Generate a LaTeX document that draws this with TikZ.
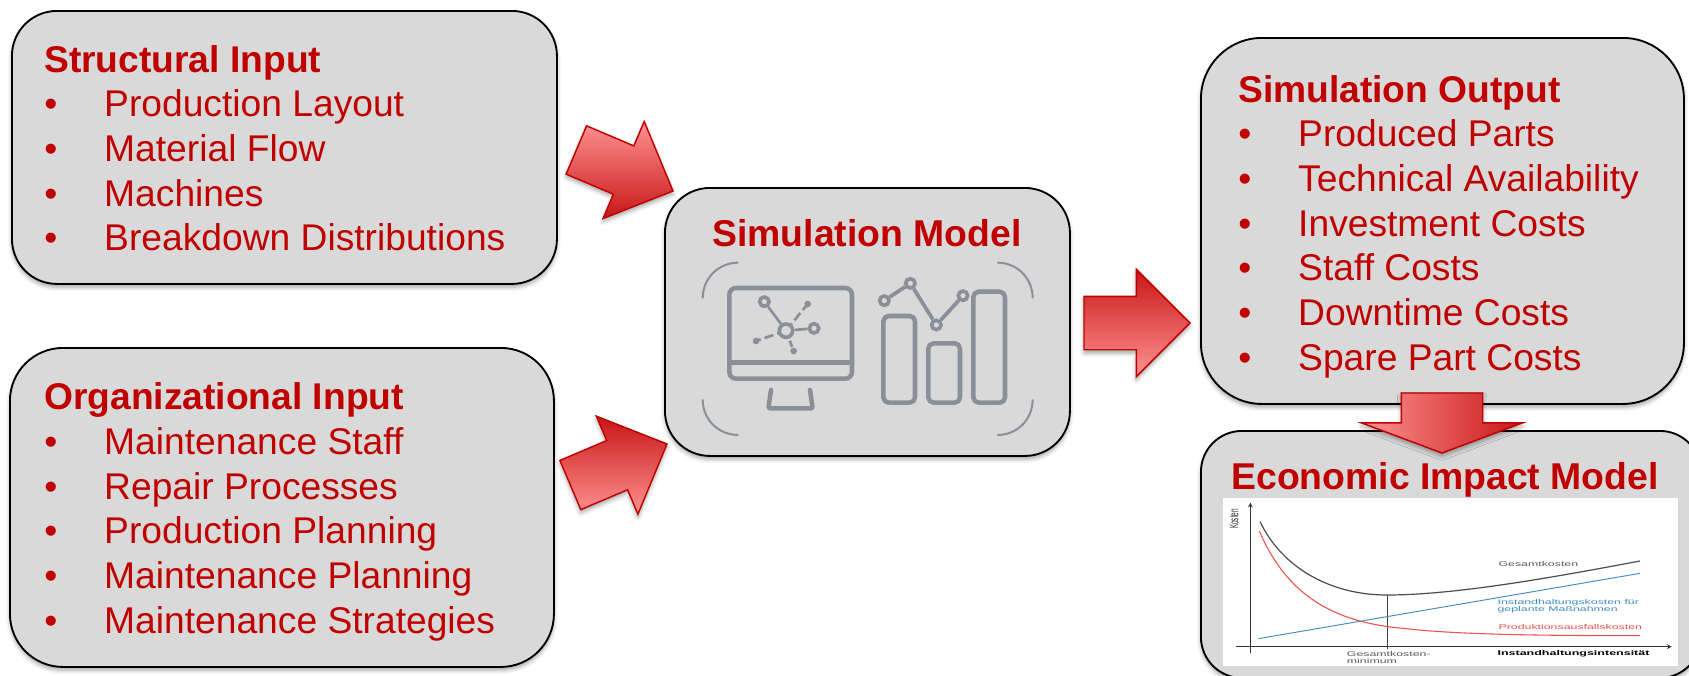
\documentclass[tikz,border=0pt]{standalone}
\usepackage{fontspec}
\usepackage{graphicx}
\setmainfont{Liberation Sans}
\usetikzlibrary{shapes.arrows,shadows.blur}

\definecolor{titlered}{HTML}{C00000}
\definecolor{panelgray}{HTML}{D9D9D9}
\definecolor{arrowlight}{HTML}{FF9292}
\definecolor{arrowdark}{HTML}{C81616}
\definecolor{icongray}{HTML}{8A8F99}
\definecolor{costblue}{HTML}{3F8CC4}
\definecolor{costred}{HTML}{F0504A}

\newcommand{\bul}[1]{\makebox[45pt][l]{\textbullet}#1}
\newcommand{\wide}[1]{\scalebox{1.78}[1]{#1}}

\begin{document}
\begin{tikzpicture}[x=0.75pt, y=-0.75pt,
    softshadow/.style={blur shadow={shadow xshift=0pt, shadow yshift=-2.5pt, shadow blur radius=3pt, shadow opacity=35}},
    panel/.style n args={3}{rectangle, draw=black, line width=1.4pt, fill=panelgray, softshadow, anchor=north west, inner sep=0pt,
        minimum width=#1*0.75pt, minimum height=#2*0.75pt, rounded corners=#3*0.75pt},
    listing/.style={anchor=north west, align=left, inner sep=0pt, text=titlered, font=\fontsize{27.9}{33.5}\selectfont},
    heading/.style={anchor=base, inner sep=0pt, text=titlered, font=\fontsize{28}{33.45}\selectfont\bfseries},
    bigarrow/.style n args={4}{single arrow, draw=titlered, line width=1.1pt, inner xsep=0pt, inner ysep=#2*0.375pt, outer sep=0pt, anchor=tip, softshadow,
        minimum height=#1*0.75pt, single arrow head extend=#3*0.75pt, single arrow tip angle=#4},
    iconline/.style={draw=icongray, line width=3.4pt, line cap=round, line join=round},
    iconring/.style={circle, draw=icongray, line width=2.7pt, fill=panelgray, inner sep=0pt, minimum size=10pt},
    icondot/.style={circle, fill=icongray, inner sep=0pt, minimum size=5pt},
    chartlabel/.style={anchor=west, align=left, inner sep=0pt, font=\fontsize{5.2}{5.5}\selectfont}]

    \useasboundingbox (0,0) rectangle (1689,675);

    % panels
    \node[panel={545}{273}{45}] (structural) at (11,10) {};
    \node[panel={544}{319}{53}] (organizational) at (9,347) {};
    \node[panel={405}{268}{45}] (model) at (664,187) {};
    \node[panel={483}{366}{61}] (output) at (1200,37) {};
    \node[panel={500}{247}{41}] (economic) at (1200,430) {};

    % panel texts
    \node[listing] (structuraltext) at (44,45) {\textbf{Structural Input}\\\bul{Production Layout}\\\bul{Material Flow}\\\bul{Machines}\\\bul{Breakdown Distributions}};
    \node[listing] (organizationaltext) at (44,382.5) {\textbf{Organizational Input}\\\bul{Maintenance Staff}\\\bul{Repair Processes}\\\bul{Production Planning}\\\bul{Maintenance Planning}\\\bul{Maintenance Strategies}};
    \node[listing] (outputtext) at (1238,75) {\textbf{Simulation Output}\\\bul{Produced Parts}\\\bul{Technical Availability}\\\bul{Investment Costs}\\\bul{Staff Costs}\\\bul{Downtime Costs}\\\bul{Spare Part Costs}};
    \node[heading] (modeltitle) at (867,246.5) {Simulation Model};
    \node[heading] (economictitle) at (1445,489) {Economic Impact Model};

    % model icons, in zoomed pixels
    \begin{scope}[shift={(650,170)}, x=0.25pt, y=-0.25pt]
        \draw[icongray, line width=1.5pt]
            (265,278) .. controls (205,278) and (158,325) .. (158,385)
            (1042,278) .. controls (1102,278) and (1148,325) .. (1148,385)
            (158,688) .. controls (158,748) and (205,795) .. (265,795)
            (1148,688) .. controls (1148,748) and (1102,795) .. (1042,795);
        % monitor
        \draw[iconline, rounded corners=5pt] (238,354) rectangle (606,626);
        \draw[iconline] (238,578) -- (606,578);
        \draw[iconline, rounded corners=1pt] (363,660) -- (355,715) -- (488,715) -- (480,660);
        \draw[icongray, line width=2pt, dash pattern=on 7pt off 3pt] (408,482) -- (473,402);
        \draw[icongray, line width=2pt, dash pattern=on 7pt off 3pt] (408,482) -- (318,513);
        \draw[icongray, line width=2pt, dash pattern=on 5pt off 3pt] (408,482) -- (431,543);
        \node[iconring] (hub) at (408,482) {};
        \node[iconring, minimum size=7pt] (hubleft) at (343,395) {};
        \node[iconring, minimum size=7pt] (hubright) at (492,475) {};
        \node[icondot] (dotup) at (473,402) {};
        \node[icondot] (dotleft) at (318,513) {};
        \node[icondot] (dotdown) at (431,543) {};
        \draw[icongray, line width=2pt] (hub) -- (hubleft);
        \draw[icongray, line width=2pt] (hub) -- (hubright);
        % bars
        \foreach \barleft/\bartop in {700/438, 835/520, 970/365}
            \draw[iconline, rounded corners=4pt] (\barleft,\bartop) rectangle (\barleft+95,698);
        \foreach \ringname/\ringx/\ringy in {ringa/703/392, ringb/781/340, ringc/859/465, ringd/939/377}
            \node[iconring, minimum size=7pt] (\ringname) at (\ringx,\ringy) {};
        \draw[icongray, line width=2.8pt] (ringa) -- (ringb);
        \draw[icongray, line width=2.8pt] (ringb) -- (ringc);
        \draw[icongray, line width=2.8pt] (ringc) -- (ringd);
    \end{scope}

    % cost chart
    \node[rectangle, fill=white, anchor=north west, inner sep=0pt, minimum width=455*0.75pt, minimum height=168*0.75pt] (chart) at (1223,498) {};
    \begin{scope}[shift={(1190,380)}, x=0.25pt, y=-0.25pt]
        \draw[->, >=stealth, line width=0.6pt, black!80] (181,820) -- (181,368);
        \draw[->, >=stealth, line width=0.6pt, black!80] (138,800) -- (1445,800);
        \draw[black!75, line width=0.6pt] (591,645) -- (591,808);
        \draw[costblue, line width=0.7pt] (205,776) -- (1350,580);
        \draw[costred, line width=0.8pt] (208,453) .. controls (280,620) and (400,725) .. (640,745) .. controls (800,765) and (1100,767) .. (1350,767);
        \draw[black!70, line width=0.9pt] (210,425) .. controls (280,570) and (430,645) .. (590,645) .. controls (800,645) and (1100,590) .. (1350,543);
        \node[chartlabel, text=black!65] (totalcost) at (925,551) {\wide{Gesamtkosten}};
        \node[chartlabel, text=costblue] (plannedcost) at (922,679) {\wide{Instandhaltungskosten für}\\\wide{geplante Maßnahmen}};
        \node[chartlabel, text=costred] (lostcost) at (925,742) {\wide{Produktionsausfallskosten}};
        \node[chartlabel, text=black!65] (minimumcost) at (470,833) {\wide{Gesamtkosten-}\\\wide{minimum}};
        \node[chartlabel, text=black, font=\fontsize{5.2}{5.5}\selectfont\bfseries] (intensity) at (922,822) {\scalebox{1.8}[1]{Instandhaltungsintensität}};
        \node[rotate=90, inner sep=0pt, font=\fontsize{9.5}{10}\selectfont, text=black!80] (costaxis) at (132,417) {\scalebox{0.5}[1]{Kosten}};
    \end{scope}

    % block arrows
    \node[bigarrow={105}{51}{26.5}{89}, top color=arrowlight, bottom color=arrowdark, rotate=-23] (structuralarrow) at (673,191) {};
    \node[bigarrow={105}{52}{26.5}{89}, top color=arrowdark, bottom color=arrowlight, rotate=23] (organizationalarrow) at (667,444) {};
    \node[bigarrow={106}{52}{27}{90}, top color=arrowdark, bottom color=arrowlight] (modelarrow) at (1190,323) {};
    \node[bigarrow={60}{80}{40}{139}, left color=arrowlight, right color=arrowdark, rotate=-90] (outputarrow) at (1442,453) {};
\end{tikzpicture}
\end{document}
